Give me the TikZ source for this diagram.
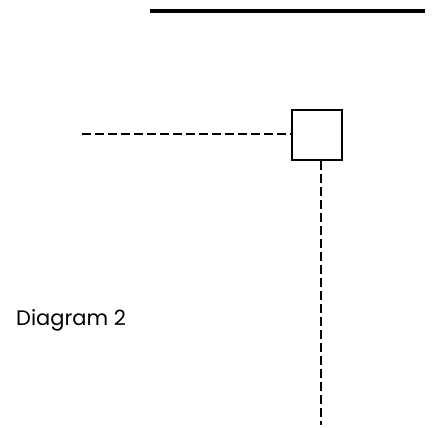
\documentclass[tikz,border=0pt]{standalone}
\usepackage{fontspec}
\setmainfont{Poppins}
\begin{document}
\begin{tikzpicture}[x=1pt, y=-1pt,
		dashline/.style={line width=2.6pt, dash pattern=on 9pt off 4pt},
		boxnode/.style={draw, line width=2.4pt, minimum size=50pt, inner sep=0pt}]
		\useasboundingbox (0, 0) rectangle (435, 427);

		% Top rule
		\coordinate (T1) at (150, 11);
		\coordinate (T2) at (425, 11);
		\draw[line width=3.2pt] (T1) -- (T2);

		% Box with its two dashed lines
		\node[boxnode] (B) at (317, 135) {};
		\coordinate (L) at (82, 134);
		\coordinate (D) at (321, 425);

		\draw[dashline] (L) -- (B.west |- L);
		\draw[dashline] (B.south -| D) -- (D);

		% Caption
		\node[anchor=west, font=\fontsize{21}{24}\selectfont, inner sep=0pt] (cap) at (16, 320) {Diagram 2};

	\end{tikzpicture}
\end{document}
